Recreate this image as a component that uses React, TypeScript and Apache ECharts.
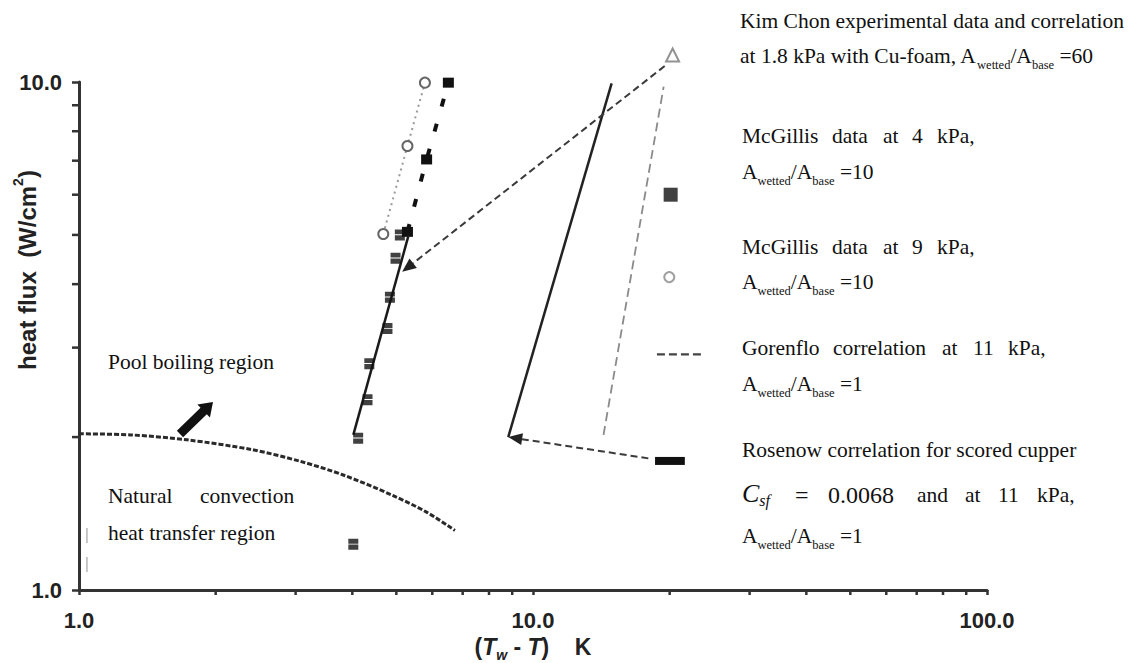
import React, { useEffect, useRef } from "react";
import * as echarts from "echarts";

// ---------- axis ticks ----------
const xMinorTicks = [2, 3, 4, 5, 6, 7, 8, 9, 20, 30, 40, 50, 60, 70, 80, 90];
const yMinorTicks = [2, 3, 4, 5, 6, 7, 8, 9];

// ---------- Kim Chon experimental data (Cu-foam, 1.8 kPa) ----------
const kimX = [4.02, 4.12, 4.32, 4.36, 4.78, 4.84, 4.98, 5.09];
const kimY = [1.23, 1.99, 2.37, 2.79, 3.27, 3.77, 4.5, 5.0];
// Kim Chon correlation
const kimCorrX = [4.02, 5.31];
const kimCorrY = [2.02, 4.96];

// ---------- McGillis data ----------
const mcg4X = [5.29, 5.83, 6.51];
const mcg4Y = [5.07, 7.04, 9.97];
const mcg9X = [4.68, 5.29, 5.78];
const mcg9Y = [5.02, 7.48, 9.97];

// ---------- correlations ----------
const gorenfloX = [14.3, 19.4];
const gorenfloY = [2.02, 9.79];
const rosenowX = [8.82, 14.9];
const rosenowY = [2.0, 9.94];

// ---------- natural convection / pool boiling boundary ----------
const natConvX = [1.0, 1.3, 1.73, 2.4, 3.07, 3.82, 4.92, 5.83, 6.73];
const natConvY = [2.03, 2.02, 1.975, 1.89, 1.792, 1.684, 1.534, 1.423, 1.31];

// ---------- annotation arrows (0 = dashed arrow, 1 = block arrow) ----------
const arrowFromX = [19.5, 17.95, 1.669];
const arrowFromY = [10.75, 1.816, 2.028];
const arrowToX = [5.15, 8.82, 1.973];
const arrowToY = [4.23, 2.0, 2.345];
const arrowKind = [0, 0, 1];

// ---------- legend symbols (placed in data space next to legend text) ----------
const legTriangle = [20.3, 11.3];
const legSquare = [20.1, 6.0];
const legCircle = [19.96, 4.13];
const legGorenfloX = [18.75, 23.7];
const legGorenfloY = [2.91, 2.91];
const legRosenowX = [18.57, 21.6];
const legRosenowY = [1.795, 1.795];

// faint scan marks near the y axis
const scanX = [1.041, 1.041];
const scanY = [1.325, 1.07];

const SERIF = "'Liberation Serif', 'Times New Roman', serif";
const SANS = "'Liberation Sans', Arial, sans-serif";
const INK = "#111";

const pairs = (xs: number[], ys: number[]) => xs.map((x, i) => [x, ys[i]]);

const subRich = {
  n: { fontFamily: SERIF, fontSize: 21.5, lineHeight: 26, verticalAlign: "top", fill: INK },
  s: { fontFamily: SERIF, fontSize: 12.5, lineHeight: 16, verticalAlign: "bottom", fill: INK },
};

function txt(x: number, y: number, text: string, opts: any = {}) {
  const { rich, fontSize = 21.5, fontStyle = "normal", align = "left", family = SERIF, weight = "normal" } = opts;
  const style: any = {
    text,
    fontFamily: family,
    fontSize,
    fontStyle,
    fontWeight: weight,
    fill: INK,
    align,
    verticalAlign: "middle",
    textAlign: align,
    textVerticalAlign: "middle",
  };
  if (rich) style.rich = rich;
  return { type: "text", x, y, silent: true, z: 100, style };
}

function words(y: number, items: [string, number, number?][]) {
  return items.map(([w, x, size]) => txt(x, y, w, { fontSize: size || 21.5 }));
}

const aRatio = (v: string) => `{n|A}{s|wetted}{n|/A}{s|base}{n| =${v}}`;

const graphics: any[] = [
  txt(740, 21, "Kim Chon experimental data and correlation"),
  txt(740, 58, "{n|at 1.8 kPa with Cu-foam, A}{s|wetted}{n|/A}{s|base}{n| =60}", { rich: subRich }),
  ...words(136, [["McGillis", 742], ["data", 832], ["at", 883], ["4", 912], ["kPa,", 937]]),
  txt(742, 174, aRatio("10"), { rich: subRich }),
  ...words(246.5, [["McGillis", 742], ["data", 832], ["at", 883], ["9", 912], ["kPa,", 937]]),
  txt(742, 284, aRatio("10"), { rich: subRich }),
  ...words(348, [["Gorenflo", 742], ["correlation", 833], ["at", 942], ["11", 973], ["kPa,", 1008]]),
  txt(742, 386, aRatio("1"), { rich: subRich }),
  txt(742, 449.5, "Rosenow correlation for scored cupper"),
  txt(742, 494.5, "{c|C}{f|sf}", {
    rich: {
      c: { fontFamily: SERIF, fontSize: 26, fontStyle: "italic", lineHeight: 28, verticalAlign: "top", fill: INK },
      f: { fontFamily: SERIF, fontSize: 16, fontStyle: "italic", lineHeight: 16, verticalAlign: "bottom", fill: INK },
    },
  }),
  ...words(494.5, [["=", 795, 24], ["0.0068", 828, 24], ["and", 917], ["at", 965], ["11", 998], ["kPa,", 1037]]),
  txt(742, 538, aRatio("1"), { rich: subRich }),
  txt(108, 362, "Pool boiling region"),
  ...words(496, [["Natural", 108], ["convection", 200]]),
  txt(108, 533, "heat transfer region"),
  // x axis title
  txt(533, 648.5, "{a|(}{i|T}{s|w}{a|\u00a0-\u00a0}{i|T}{a|)\u00a0\u00a0\u00a0\u00a0K}", {
    align: "center",
    family: SANS,
    weight: "bold",
    fontSize: 23,
    rich: {
      a: { fontFamily: SANS, fontWeight: "bold", fontSize: 23, lineHeight: 27, verticalAlign: "top", fill: "#222" },
      i: { fontFamily: SANS, fontWeight: "bold", fontStyle: "italic", fontSize: 23, lineHeight: 27, verticalAlign: "top", fill: "#222" },
      s: { fontFamily: SANS, fontWeight: "bold", fontStyle: "italic", fontSize: 14, lineHeight: 17, verticalAlign: "bottom", fill: "#222" },
    },
  }),
  // y axis title (rotated)
  {
    type: "text",
    x: 25,
    y: 270,
    rotation: Math.PI / 2,
    silent: true,
    z: 100,
    style: {
      text: "{t|heat flux\u00a0\u00a0(W/cm}{p|2}{t|)}",
      fontFamily: SANS,
      fontWeight: "bold",
      fontSize: 24,
      fill: "#222",
      align: "center",
      verticalAlign: "middle",
      textAlign: "center",
      textVerticalAlign: "middle",
      rich: {
        t: { fontFamily: SANS, fontWeight: "bold", fontSize: 24, lineHeight: 29, verticalAlign: "bottom", fill: "#222" },
        p: { fontFamily: SANS, fontWeight: "bold", fontSize: 14, lineHeight: 14, verticalAlign: "top", fill: "#222" },
      },
    },
  },
];

function tickSeries(values: number[], axis: "x" | "y") {
  return {
    type: "custom",
    coordinateSystem: "cartesian2d",
    silent: true,
    clip: false,
    z: 5,
    data: values.map((v) => (axis === "x" ? [v, 1] : [1, v])),
    renderItem: (_p: any, api: any) => {
      const p = api.coord([api.value(0), api.value(1)]);
      const shape =
        axis === "x"
          ? { x1: p[0], y1: p[1], x2: p[0], y2: p[1] + 5 }
          : { x1: p[0] - 7, y1: p[1], x2: p[0], y2: p[1] };
      return { type: "line", shape, style: { stroke: "#333", lineWidth: 2.5 } };
    },
  };
}

const arrowData = arrowFromX.map((x, i) => [x, arrowFromY[i], arrowToX[i], arrowToY[i], arrowKind[i]]);

const option: any = {
  animation: false,
  backgroundColor: "#fff",
  grid: { left: 79, right: 156, top: 82, bottom: 73, outerBoundsMode: "none" },
  xAxis: {
    type: "log",
    logBase: 10,
    min: 1,
    max: 100,
    axisLine: { show: true, lineStyle: { color: "#333", width: 3 } },
    axisTick: { show: true, length: 5, lineStyle: { color: "#333", width: 2.5 } },
    axisLabel: {
      formatter: (v: number) => Number(v).toFixed(1),
      fontFamily: SANS,
      fontWeight: "bold",
      fontSize: 22,
      color: "#222",
      margin: 19,
      showMinLabel: true,
      showMaxLabel: true,
    },
    splitLine: { show: false },
  },
  yAxis: {
    type: "log",
    logBase: 10,
    min: 1,
    max: 10,
    axisLine: { show: true, lineStyle: { color: "#333", width: 3 } },
    axisTick: { show: true, length: 7, lineStyle: { color: "#333", width: 2.5 } },
    axisLabel: {
      formatter: (v: number) => Number(v).toFixed(1),
      fontFamily: SANS,
      fontWeight: "bold",
      fontSize: 22,
      color: "#222",
      margin: 17,
      showMinLabel: true,
      showMaxLabel: true,
    },
    splitLine: { show: false },
  },
  graphic: { elements: graphics },
  series: [
    tickSeries(xMinorTicks, "x"),
    tickSeries(yMinorTicks, "y"),
    {
      name: "Natural convection boundary",
      type: "line",
      data: pairs(natConvX, natConvY),
      smooth: 0.3,
      symbol: "none",
      clip: false,
      silent: true,
      lineStyle: { color: "#2a2a2a", width: 3, type: [5, 2] },
    },
    {
      name: "scan marks",
      type: "line",
      data: pairs(scanX, scanY),
      symbol: "none",
      silent: true,
      lineStyle: { color: "#b5b5b5", width: 1.5, type: [15, 14] },
    },
    {
      name: "Gorenflo correlation",
      type: "line",
      data: pairs(gorenfloX, gorenfloY),
      symbol: "none",
      silent: true,
      lineStyle: { color: "#8a8a8a", width: 1.8, type: [9, 5] },
    },
    {
      name: "Rosenow correlation",
      type: "line",
      data: pairs(rosenowX, rosenowY),
      symbol: "none",
      silent: true,
      lineStyle: { color: "#222", width: 2.5 },
    },
    {
      name: "Kim Chon correlation",
      type: "line",
      data: pairs(kimCorrX, kimCorrY),
      symbol: "none",
      silent: true,
      lineStyle: { color: "#1a1a1a", width: 2.5 },
    },
    {
      name: "McGillis 9 kPa",
      type: "line",
      data: pairs(mcg9X, mcg9Y),
      symbol: "emptyCircle",
      symbolSize: 10,
      clip: false,
      silent: true,
      itemStyle: { color: "#666", borderWidth: 2 },
      lineStyle: { color: "#999", width: 2, type: [2, 4] },
      z: 3,
    },
    {
      name: "McGillis 4 kPa",
      type: "line",
      data: pairs(mcg4X, mcg4Y),
      symbol: "rect",
      symbolSize: [11, 10],
      clip: false,
      silent: true,
      itemStyle: { color: "#111" },
      lineStyle: { color: "#111", width: 4, type: [8, 18] },
      z: 3,
    },
    {
      name: "Kim Chon data",
      type: "scatter",
      data: pairs(kimX, kimY),
      symbol: "path://M0,0L10,0L10,4.6L0,4.6Z M0,5.5L10,5.5L10,10.5L0,10.5Z",
      symbolSize: [10, 11],
      silent: true,
      clip: false,
      itemStyle: { color: "#111" },
      z: 4,
    },
    {
      name: "arrows",
      type: "custom",
      coordinateSystem: "cartesian2d",
      silent: true,
      clip: false,
      encode: { x: [0, 2], y: [1, 3] },
      data: arrowData,
      z: 4,
      renderItem: (_p: any, api: any) => {
        const a = api.coord([api.value(0), api.value(1)]);
        const b = api.coord([api.value(2), api.value(3)]);
        const kind = api.value(4);
        const dx = b[0] - a[0];
        const dy = b[1] - a[1];
        const len = Math.hypot(dx, dy) || 1;
        const ux = dx / len;
        const uy = dy / len;
        const nx = -uy;
        const ny = ux;
        if (kind === 1) {
          const hl = 13, hw = 9, sw = 4.5;
          const bx = b[0] - ux * hl, by = b[1] - uy * hl;
          const points = [
            [a[0] + nx * sw, a[1] + ny * sw],
            [bx + nx * sw, by + ny * sw],
            [bx + nx * hw, by + ny * hw],
            [b[0], b[1]],
            [bx - nx * hw, by - ny * hw],
            [bx - nx * sw, by - ny * sw],
            [a[0] - nx * sw, a[1] - ny * sw],
          ];
          return { type: "polygon", shape: { points }, style: { fill: "#111" } };
        }
        const hl = 14, hw = 6;
        const bx = b[0] - ux * hl, by = b[1] - uy * hl;
        return {
          type: "group",
          children: [
            {
              type: "line",
              shape: { x1: a[0], y1: a[1], x2: bx, y2: by },
              style: { stroke: "#3a3a3a", lineWidth: 2, lineDash: [7, 4] },
            },
            {
              type: "polygon",
              shape: { points: [[b[0], b[1]], [bx + nx * hw, by + ny * hw], [bx - nx * hw, by - ny * hw]] },
              style: { fill: "#222" },
            },
          ],
        };
      },
    },
    {
      name: "legend triangle",
      type: "scatter",
      data: [legTriangle],
      symbol: "emptyTriangle",
      symbolSize: 13,
      clip: false,
      silent: true,
      itemStyle: { color: "#777", borderWidth: 1.8 },
    },
    {
      name: "legend square",
      type: "scatter",
      data: [legSquare],
      symbol: "rect",
      symbolSize: 14,
      clip: false,
      silent: true,
      itemStyle: { color: "#111" },
    },
    {
      name: "legend circle",
      type: "scatter",
      data: [legCircle],
      symbol: "emptyCircle",
      symbolSize: 10,
      clip: false,
      silent: true,
      itemStyle: { color: "#888", borderWidth: 1.5 },
    },
    {
      name: "legend Gorenflo",
      type: "line",
      data: pairs(legGorenfloX, legGorenfloY),
      symbol: "none",
      clip: false,
      silent: true,
      lineStyle: { color: "#444", width: 2.2, type: [8, 4] },
    },
    {
      name: "legend Rosenow",
      type: "line",
      data: pairs(legRosenowX, legRosenowY),
      symbol: "none",
      clip: false,
      silent: true,
      lineStyle: { color: "#111", width: 8, cap: "butt" },
    },
  ],
};

export default function App() {
  const ref = useRef<HTMLDivElement>(null);
  useEffect(() => {
    if (!ref.current) return;
    const chart = echarts.init(ref.current, null, { renderer: "svg" });
    chart.setOption(option);
    return () => chart.dispose();
  }, []);
  return (
    <div
      ref={ref}
      style={{ position: "fixed", left: 0, top: 0, width: 1143, height: 663, background: "#fff" }}
    />
  );
}
